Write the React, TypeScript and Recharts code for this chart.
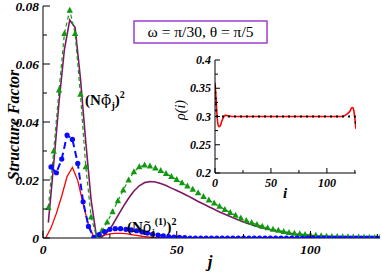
import React from 'react';
import { LineChart, Line, XAxis, YAxis } from 'recharts';

const FONT = "'Liberation Serif', 'Times New Roman', serif";
const TILDE_FONT = "'Noto Serif', 'DejaVu Serif', serif";

// ---------- main panel data ----------
const jEven = [2, 4, 6, 8, 10, 12, 14, 16, 18, 20, 22, 24, 26, 28, 30, 32, 34, 36, 38, 40, 42, 44, 46, 48, 50, 52, 54, 56, 58, 60, 62, 64, 66, 68, 70, 72, 74, 76, 78, 80, 82, 84, 86, 88, 90, 92, 94, 96, 98, 100, 102, 104, 106, 108, 110, 112, 114, 116, 118, 120, 122, 124, 126];
const greenPhi = [0.0105, 0.030, 0.051, 0.0705, 0.0785, 0.0705, 0.0495, 0.0245, 0.0072, 0.0005, 0.0025, 0.0055, 0.009, 0.0128, 0.0165, 0.0200, 0.0228, 0.0245, 0.0251, 0.0248, 0.0241, 0.0232, 0.0222, 0.0212, 0.0201, 0.019, 0.0179, 0.0168, 0.0156, 0.0143, 0.0131, 0.012, 0.0109, 0.0098, 0.0088, 0.0078, 0.0069, 0.006, 0.0053, 0.0046, 0.004, 0.0035, 0.003, 0.0026, 0.0022, 0.0019, 0.0016, 0.0014, 0.0012, 0.001, 0.0009, 0.0007, 0.0006, 0.0005, 0.0005, 0.0004, 0.0004, 0.0003, 0.0003, 0.0002, 0.0002, 0.0001, 0.0001];
const purplePhi = [0.0053, 0.0255, 0.047, 0.065, 0.0752, 0.0726, 0.055, 0.033, 0.013, 0.0005, 0.0004, 0.002, 0.0045, 0.0077, 0.0108, 0.0137, 0.0162, 0.018, 0.0191, 0.0195, 0.0193, 0.0188, 0.0181, 0.0172, 0.0164, 0.0155, 0.0146, 0.0136, 0.0126, 0.0117, 0.0108, 0.0099, 0.009, 0.0082, 0.0074, 0.0066, 0.0059, 0.0052, 0.0046, 0.004, 0.0035, 0.0031, 0.0027, 0.0023, 0.002, 0.0017, 0.0014, 0.0012, 0.001, 0.0009, 0.0007, 0.0006, 0.0005, 0.0004, 0.0003, 0.0003, 0.0002, 0.0002, 0.0001, 0.0001, 0.0001, 0.0001, 0];

const jOdd = [1, 3, 5, 7, 9, 11, 13, 15, 17, 19, 21, 23, 25, 27, 29, 31, 33, 35, 37, 39, 41, 43, 45, 47, 49, 51, 53, 55, 57, 59, 61, 63, 65, 67, 69, 71, 73, 75, 77, 79, 81, 83, 85, 87, 89, 91, 93, 95, 97, 99, 101, 103, 105, 107, 109, 111, 113, 115, 117, 119, 121, 123, 125];
const blueRho = [null, 0.0245, 0.0225, 0.0272, 0.0355, 0.034, 0.0257, 0.0125, 0.004, 0.0002, 0.0012, 0.0022, 0.003, 0.0032, 0.0032, 0.003, 0.0028, 0.0025, 0.0021, 0.0017, 0.0013, 0.001, 0.0007, 0.0005, 0.0003, 0.0002, 0.0001, 0, 0, 0, 0, 0, 0, 0, 0, 0, 0, 0, 0, 0, 0, 0, 0, 0, 0, 0, 0, 0, 0, 0, 0, 0, 0, 0, 0, 0, 0, 0, 0, 0, 0, 0, 0];
const redRho = [0, 0.0035, 0.0085, 0.0145, 0.0212, 0.0243, 0.0198, 0.0118, 0.0045, 0.0003, 0.0005, 0.001, 0.0014, 0.0016, 0.0016, 0.0015, 0.0012, 0.0009, 0.0006, 0.0004, 0.0002, 0.0001, 0, 0, 0, 0, 0, 0, 0, 0, 0, 0, 0, 0, 0, 0, 0, 0, 0, 0, 0, 0, 0, 0, 0, 0, 0, 0, 0, 0, 0, 0, 0, 0, 0, 0, 0, 0, 0, 0, 0, 0, 0];

// ---------- inset data ----------
const iSite = [0, 1, 2, 3, 4, 5, 6, 7, 8, 9, 10, 12, 15, 20, 30, 40, 50, 60, 70, 80, 90, 100, 110, 113, 115, 117, 119, 121, 122, 123, 124, 125, 126];
const rhoRed = [0.36, 0.33, 0.297, 0.284, 0.282, 0.285, 0.291, 0.296, 0.3, 0.302, 0.302, 0.301, 0.3, 0.3, 0.3, 0.3, 0.3, 0.3, 0.3, 0.3, 0.3, 0.3, 0.3, 0.3, 0.301, 0.303, 0.306, 0.311, 0.315, 0.316, 0.311, 0.296, 0.278];
const rhoBlack = [0.355, 0.31, 0.3, 0.3, 0.3, 0.3, 0.3, 0.3, 0.3, 0.3, 0.3, 0.3, 0.3, 0.3, 0.3, 0.3, 0.3, 0.3, 0.3, 0.3, 0.3, 0.3, 0.3, 0.3, 0.3, 0.3, 0.3, 0.3, 0.3, 0.3, 0.3, 0.3, 0.285];

// ---------- ticks ----------
const yMainTicks = [0, 0.01, 0.02, 0.03, 0.04, 0.05, 0.06, 0.07, 0.08];
const xMainTicks = [0, 25, 50, 75, 100, 125];
const yInsetTicks = [0.2, 0.225, 0.25, 0.275, 0.3, 0.325, 0.35, 0.375, 0.4];
const xInsetTicks = [0, 25, 50, 75, 100, 125];

const evenRows = jEven.map((j, k) => ({ j, green: greenPhi[k], purple: purplePhi[k] }));
const oddRows = jOdd.map((j, k) => ({ j, blue: blueRho[k], red: redRho[k] }));
const insetRows = iSite.map((i, k) => ({ i, red: rhoRed[k], black: rhoBlack[k] }));

type Side = 'left' | 'right' | 'top' | 'bottom';
const makeTick = (side: Side, step: number, majorLen: number, minorLen: number, fontSize: number, showLabel: boolean) =>
  (props: any) => {
    const { x, y, payload } = props;
    const v = payload.value;
    const isMajor = Math.abs(v / step - Math.round(v / step)) < 1e-6;
    const len = isMajor ? majorLen : minorLen;
    let line: any = null;
    let text: any = null;
    const tStyle = { fontFamily: FONT, fontWeight: 'bold' as const, fontStyle: 'italic' as const, fontSize, fill: '#000' };
    if (side === 'left') {
      line = <line x1={x} y1={y} x2={x + len} y2={y} stroke="#000" strokeWidth={1} />;
      if (showLabel && isMajor) text = <text x={x - 4} y={y} textAnchor="end" dominantBaseline="central" style={tStyle}>{String(v)}</text>;
    } else if (side === 'right') {
      line = <line x1={x} y1={y} x2={x - len} y2={y} stroke="#000" strokeWidth={1} />;
    } else if (side === 'top') {
      line = <line x1={x} y1={y} x2={x} y2={y + len} stroke="#000" strokeWidth={1} />;
    } else {
      line = <line x1={x} y1={y} x2={x} y2={y - len} stroke="#000" strokeWidth={1} />;
      if (showLabel && isMajor) text = <text x={x} y={y + fontSize + 2} textAnchor="middle" style={tStyle}>{String(v)}</text>;
    }
    return <g>{line}{text}</g>;
  };

const triangleDot = (props: any) => {
  const { cx, cy, index } = props;
  if (cx == null || cy == null) return <g key={`t${index}`} />;
  return <polygon key={`t${index}`} points={`${cx},${cy - 3.6} ${cx - 3.2},${cy + 2.4} ${cx + 3.2},${cy + 2.4}`} fill="#129912" />;
};
const circleDot = (props: any) => {
  const { cx, cy, index } = props;
  if (cx == null || cy == null) return <g key={`c${index}`} />;
  return <circle key={`c${index}`} cx={cx} cy={cy} r={2.6} fill="#0a0aff" />;
};

export default function App() {
  const axisLine = { stroke: '#000', strokeWidth: 1 };
  return (
    <div style={{ position: 'absolute', left: 0, top: 0, width: 382, height: 273, background: '#fff' }}>
      {/* main chart */}
      <div style={{ position: 'absolute', left: 0, top: 0 }}>
        <LineChart width={382} height={273} margin={{ top: 6, right: 2, bottom: 0, left: 0 }}>
          <XAxis dataKey="j" type="number" domain={[0, 126]} allowDataOverflow ticks={xMainTicks} interval={0}
            height={35} tickSize={0} tickMargin={0} tickLine={false} axisLine={axisLine}
            tick={makeTick('bottom', 50, 7, 4, 13.5, true)} />
          <XAxis xAxisId="top" orientation="top" dataKey="j" type="number" domain={[0, 126]} allowDataOverflow ticks={xMainTicks} interval={0}
            height={0} tickSize={0} tickMargin={0} tickLine={false} axisLine={axisLine}
            tick={makeTick('top', 50, 7, 4, 13, false)} />
          <YAxis type="number" domain={[0, 0.08]} allowDataOverflow ticks={yMainTicks} interval={0}
            width={43} tickSize={0} tickMargin={0} tickLine={false} axisLine={axisLine}
            tick={makeTick('left', 0.02, 7, 4, 13.5, true)} />
          <YAxis yAxisId="right" orientation="right" type="number" domain={[0, 0.08]} allowDataOverflow ticks={yMainTicks} interval={0}
            width={0} tickSize={0} tickMargin={0} tickLine={false} axisLine={axisLine}
            tick={makeTick('right', 0.02, 7, 4, 13, false)} />
          <Line data={oddRows} dataKey="red" type="linear" stroke="#ff0000" strokeWidth={1.3} dot={false} isAnimationActive={false} />
          <Line data={evenRows} dataKey="purple" type="linear" stroke="#7e1766" strokeWidth={1.6} dot={false} isAnimationActive={false} />
          <Line data={evenRows} dataKey="green" type="linear" stroke="#129912" strokeWidth={1.2} strokeDasharray="4 3" dot={triangleDot} isAnimationActive={false} />
          <Line data={oddRows} dataKey="blue" type="linear" stroke="#0a0aff" strokeWidth={2} strokeDasharray="7 4" dot={circleDot} connectNulls isAnimationActive={false} />
        </LineChart>
      </div>

      {/* inset chart */}
      <div style={{ position: 'absolute', left: 0, top: 0, pointerEvents: 'none' }}>
        <LineChart width={382} height={273} margin={{ top: 60, right: 26, bottom: 75, left: 170 }}>
          <XAxis dataKey="i" type="number" domain={[0, 126]} allowDataOverflow ticks={xInsetTicks} interval={0}
            height={25} tickSize={0} tickMargin={0} tickLine={false} axisLine={axisLine}
            tick={makeTick('bottom', 50, 5, 3, 12, true)} />
          <XAxis xAxisId="top" orientation="top" dataKey="i" type="number" domain={[0, 126]} allowDataOverflow ticks={xInsetTicks} interval={0}
            height={0} tickSize={0} tickMargin={0} tickLine={false} axisLine={axisLine}
            tick={makeTick('top', 50, 5, 5, 12, false)} />
          <YAxis type="number" domain={[0.2, 0.4]} allowDataOverflow ticks={yInsetTicks} interval={0}
            width={45} tickSize={0} tickMargin={0} tickLine={false} axisLine={axisLine}
            tick={makeTick('left', 0.05, 5, 3, 12, true)} />
          <YAxis yAxisId="right" orientation="right" type="number" domain={[0.2, 0.4]} allowDataOverflow ticks={yInsetTicks} interval={0}
            width={0} tickSize={0} tickMargin={0} tickLine={false} axisLine={axisLine}
            tick={makeTick('right', 0.05, 5, 3, 12, false)} />
          <Line data={insetRows} dataKey="red" type="monotone" stroke="#ff0000" strokeWidth={1.6} dot={false} isAnimationActive={false} />
          <Line data={insetRows} dataKey="black" type="linear" stroke="#000" strokeWidth={2} strokeDasharray="2 4" dot={false} isAnimationActive={false} />
        </LineChart>
      </div>

      {/* annotations */}
      <svg width={382} height={273} style={{ position: 'absolute', left: 0, top: 0, pointerEvents: 'none' }}>
        <rect x={134} y={21} width={133} height={22} fill="#fff" stroke="#9a3fd0" strokeWidth={1.5} />
        <text x={200.5} y={37} textAnchor="middle" style={{ fontFamily: FONT, fontSize: 15.5, fill: '#000' }}>ω = π/30, θ = π/5</text>

        <text x={85} y={105} style={{ fontFamily: FONT, fontSize: 15, fontWeight: 'bold', fill: '#000' }}>
          (N<tspan style={{ fontFamily: TILDE_FONT, fontWeight: 'normal' }}>ϕ̃</tspan><tspan fontSize={10} dy={4}>j</tspan><tspan dy={-4}>)</tspan><tspan fontSize={10} dy={-7}>2</tspan>
        </text>
        <text x={127} y={232} style={{ fontFamily: FONT, fontSize: 15, fontWeight: 'bold', fill: '#000' }}>
          (N<tspan style={{ fontFamily: TILDE_FONT, fontWeight: 'normal' }}>ρ̃</tspan><tspan fontSize={10} dy={4}>j</tspan><tspan fontSize={10} dy={-11}>(1)</tspan><tspan dy={7}>)</tspan><tspan fontSize={10} dy={-7}>2</tspan>
        </text>

        <text transform="translate(19,125) rotate(-90)" textAnchor="middle" style={{ fontFamily: FONT, fontSize: 16, fontWeight: 'bold', fontStyle: 'italic', fill: '#000' }}>Structure Factor</text>
        <text x={210} y={267} textAnchor="middle" style={{ fontFamily: FONT, fontSize: 17, fontWeight: 'bold', fontStyle: 'italic', fill: '#000' }}>j</text>
        <text transform="translate(185,110) rotate(-90)" textAnchor="middle" style={{ fontFamily: FONT, fontSize: 14, fontStyle: 'italic', fill: '#000' }}>ρ(i)</text>
        <text x={285} y={198} textAnchor="middle" style={{ fontFamily: FONT, fontSize: 15, fontWeight: 'bold', fontStyle: 'italic', fill: '#000' }}>i</text>
      </svg>
    </div>
  );
}
